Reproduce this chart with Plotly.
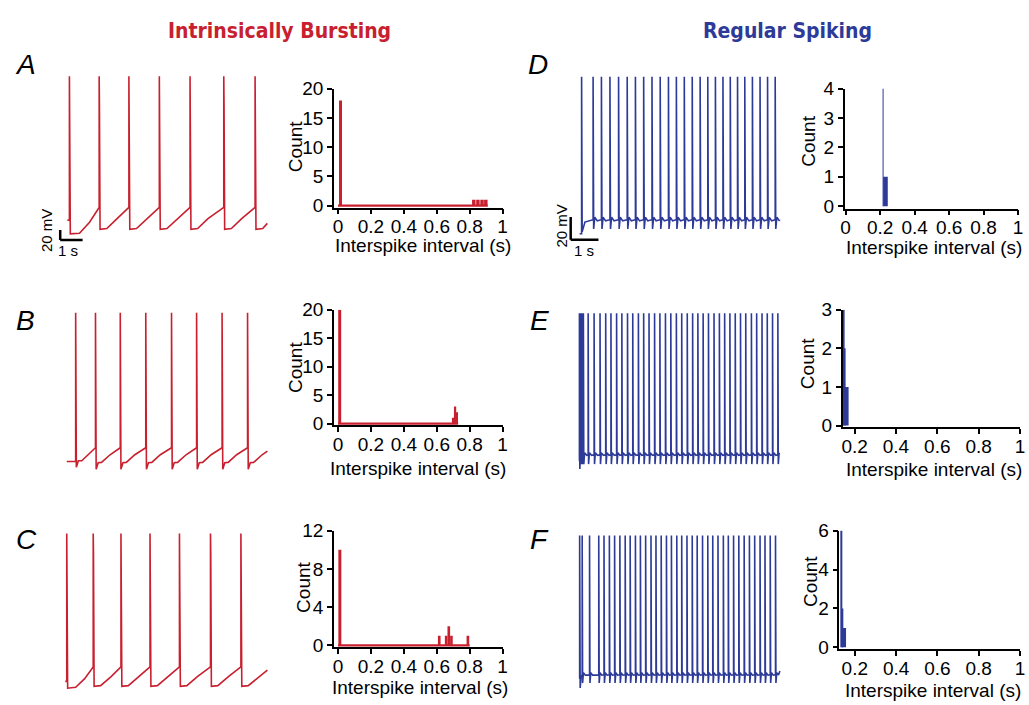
import plotly.graph_objects as go

W, H = 1029, 705
RED = "#c8202e"
BLUE = "#2d3a98"
FONT = "Liberation Sans, Arial, Helvetica, sans-serif"

# ---------------- data: spike times (s) ----------------
A_SPIKES = [0.265, 1.593, 2.920, 4.279, 5.650, 7.155, 8.553]
B_SPIKES = [0.544, 1.429, 2.535, 3.673, 4.823, 5.942, 7.080, 8.217]
C_SPIKES = [0.146, 1.327, 2.566, 3.863, 5.177, 6.562, 7.920]
D_SPIKES = [0.275, 0.689, 0.989, 1.296, 1.607, 1.918, 2.214, 2.511, 2.811, 3.107,
            3.404, 3.689, 3.975, 4.261, 4.546, 4.821, 5.096, 5.368, 5.632, 5.893,
            6.154, 6.429, 6.704, 6.975, 7.250]
E_SPIKES = [0.196, 0.232, 0.268, 0.304, 0.339, 0.511, 0.725, 0.939, 1.143, 1.332,
            1.536, 1.725, 1.929, 2.118, 2.321, 2.511, 2.704, 2.904, 3.096, 3.296,
            3.489, 3.689, 3.882, 4.082, 4.275, 4.464, 4.654, 4.846, 5.046, 5.239,
            5.429, 5.618, 5.811, 6.000, 6.189, 6.393, 6.582, 6.775, 6.964, 7.154,
            7.346]
F_SPIKES = [0.204, 0.296, 0.561, 0.893, 1.082, 1.275, 1.464, 1.654, 1.846, 2.025,
            2.214, 2.393, 2.582, 2.775, 2.954, 3.143, 3.332, 3.511, 3.704, 3.882,
            4.071, 4.261, 4.439, 4.632, 4.821, 5.000, 5.189, 5.382, 5.561, 5.750,
            5.939, 6.132, 6.321, 6.511, 6.704, 6.882, 7.071, 7.261]

# voltage levels (in scale-bar mV): start, end, pre-spike, peak
A_START, A_END, A_PRE, A_PEAK = (0.177, -50.9), (9.10, -57.2), -26, 231
B_START, B_END, B_PRE, B_PEAK = (0.146, -66.1), (9.102, -45.9), -39.3, 225
C_START, C_END, C_PRE, C_PEAK = (0.08, -62.4), (9.102, -40.1), -34, 227
D_START, D_END, D_PRE, D_PEAK = (0.204, -77.0), (7.404, -64.6), -64.6, 61.6
E_START, E_END, E_PRE, E_PEAK = (0.17, -70.0), (7.40, -65.0), -65.0, 59.7
F_START, F_END, F_PRE, F_PEAK = (0.179, -67.3), (7.418, -61.0), -64.4, 58.6

# post-spike waveform (time after spike s, mV)
A_AFTER = [(0.006, 77), (0.012, 177), (0.04, -68.7), (0.34, -67.3), (0.8, -48)]
A_AFTER_FIRST = [(0.006, 77), (0.012, 177), (0.04, -77.6), (0.45, -76.7), (0.9, -55)]
B_AFTER = [(0.006, 77), (0.012, 170), (0.03, -81.5), (0.12, -68.7), (0.27, -68), (0.65, -53)]
B_AFTER_FIRST = [(0.006, 77), (0.012, 170), (0.03, -77.6), (0.12, -64.7), (0.27, -64.7)]
C_AFTER = [(0.006, 77), (0.012, 191), (0.04, -71.9), (0.33, -70.7), (0.8, -53)]
C_AFTER_FIRST = [(0.006, 77), (0.012, 191), (0.04, -75.7), (0.4, -74), (0.8, -57)]
D_AFTER = [(0.02, -72.7), (0.06, -62.4), (0.15, -65.6)]
D_AFTER_FIRST = [(0.02, -75.3), (0.12, -66.7)]
E_AFTER = [(0.015, -73.3), (0.045, -63.3), (0.12, -65.5)]
E_AFTER_FIRST = [(0.015, -77.6)]
F_AFTER = [(0.015, -71.6), (0.045, -62.4), (0.11, -64.6)]
F_AFTER_FIRST = [(0.02, -75.9), (0.05, -66)]

# ---------------- data: ISI histograms ----------------
HA_X = [0.015, 0.825, 0.850, 0.875, 0.898]
HA_Y = [18, 1, 1, 1, 1]
HA_W = [0.018, 0.021, 0.021, 0.021, 0.021]
HA_BASE_END = 0.91
HB_X = [0.010, 0.702, 0.713, 0.724]
HB_Y = [20, 1, 3, 2]
HB_W = [0.018, 0.010, 0.010, 0.010]
HB_BASE_END = 0.73
HC_X = [0.011, 0.615, 0.657, 0.673, 0.689, 0.789]
HC_Y = [10, 1, 1, 2, 1, 1]
HC_W = [0.018, 0.016, 0.016, 0.016, 0.016, 0.016]
HC_BASE_END = 0.80
HD_X = [0.231, 0.2165]
HD_Y = [1, 4]
HD_W = [0.027, 0.004]
HE_X = [0.162, 0.147, 0.150]
HE_Y = [1, 3, 2]
HE_W = [0.018, 0.004, 0.004]
HF_X = [0.1475, 0.136, 0.139]
HF_Y = [1, 6, 2]
HF_W = [0.020, 0.004, 0.004]

X_TICKS = [0, 0.2, 0.4, 0.6, 0.8, 1]
X_TICK_TEXT = ["0", "0.2", "0.4", "0.6", "0.8", "1"]


def build(spikes, after, after_first, start, end, pre, peak):
    ts, vs = [start[0]], [start[1]]
    for i, t in enumerate(spikes):
        nxt = spikes[i + 1] if i + 1 < len(spikes) else end[0]
        ts.append(t); vs.append(start[1] if i == 0 else pre)
        ts.append(t); vs.append(peak)
        for dt, v in (after_first if i == 0 else after):
            if t + dt < nxt:
                ts.append(t + dt); vs.append(v)
    ts.append(end[0]); vs.append(end[1])
    return ts, vs


def fx(px):
    return px / W


def fy(py):
    return 1 - py / H


def x_axis_place(p0, p1, r0, r1):
    lo, hi = max(p0, 0), min(p1, W)
    k = (r1 - r0) / (p1 - p0)
    return [fx(lo), fx(hi)], [r0 + (lo - p0) * k, r0 + (hi - p0) * k]


def y_axis_place(p0, p1, r_top, r_bot):
    lo, hi = max(p0, 0), min(p1, H)
    k = (r_bot - r_top) / (p1 - p0)
    return [fy(hi), fy(lo)], [r_top + (hi - p0) * k, r_top + (lo - p0) * k]


fig = go.Figure()
layout = {}

# ---------- trace panels ----------
# (axis idx, data, colour, x px, y px, x origin px, px per s, ref px, ref mV, px per mV)
trace_panels = [
    (1, build(A_SPIKES, A_AFTER, A_AFTER_FIRST, A_START, A_END, A_PRE, A_PEAK), RED,
     (35, 280), (50, 255), 60, 22.6, 226, -70, 0.525),
    (5, build(B_SPIKES, B_AFTER, B_AFTER_FIRST, B_START, B_END, B_PRE, B_PEAK), RED,
     (35, 280), (295, 485), 60, 22.6, 466, -70, 0.525),
    (9, build(C_SPIKES, C_AFTER, C_AFTER_FIRST, C_START, C_END, C_PRE, C_PEAK), RED,
     (35, 280), (520, 705), 60, 22.6, 694, -70, 0.525),
    (3, build(D_SPIKES, D_AFTER, D_AFTER_FIRST, D_START, D_END, D_PRE, D_PEAK), BLUE,
     (545, 792), (50, 255), 575, 28.0, 216, -65, 1.165),
    (7, build(E_SPIKES, E_AFTER, E_AFTER_FIRST, E_START, E_END, E_PRE, E_PEAK), BLUE,
     (545, 792), (295, 485), 575, 28.0, 457, -65, 1.165),
    (11, build(F_SPIKES, F_AFTER, F_AFTER_FIRST, F_START, F_END, F_PRE, F_PEAK), BLUE,
     (545, 792), (520, 705), 575, 28.0, 684, -65, 1.165),
]

for idx, (ts, vs), col, xd, yd, ox, sx, pref, vref, sy in trace_panels:
    sfx = "" if idx == 1 else str(idx)
    fig.add_trace(go.Scatter(x=ts, y=vs, mode="lines", line=dict(color=col, width=1.6),
                             xaxis="x" + sfx, yaxis="y" + sfx, hoverinfo="skip"))
    dx, rx = x_axis_place(xd[0], xd[1], (xd[0] - ox) / sx, (xd[1] - ox) / sx)
    dy, ry = y_axis_place(yd[0], yd[1], vref + (pref - yd[0]) / sy, vref + (pref - yd[1]) / sy)
    layout["xaxis" + sfx] = dict(domain=dx, range=rx, visible=False, anchor="y" + sfx)
    layout["yaxis" + sfx] = dict(domain=dy, range=ry, visible=False, anchor="x" + sfx)

# ---------- histograms ----------
hist_panels = [
    (2, HA_X, HA_Y, HA_W, HA_BASE_END, RED, (332.85, 503), [-0.025, 1], (81, 203), [-0.333, 20], [0, 5, 10, 15, 20]),
    (6, HB_X, HB_Y, HB_W, HB_BASE_END, RED, (332.85, 503), [-0.025, 1], (308, 427), [-0.34, 20], [0, 5, 10, 15, 20]),
    (10, HC_X, HC_Y, HC_W, HC_BASE_END, RED, (332.85, 503), [-0.025, 1], (535, 655), [-0.2, 12], [0, 4, 8, 12]),
    (4, HD_X, HD_Y, HD_W, None, BLUE, (848, 1023), [-0.006, 1], (80.7, 204), [-0.076, 4], [0, 1, 2, 3, 4]),
    (8, HE_X, HE_Y, HE_W, None, BLUE, (846, 1025), [0.142, 1], (308, 429), [-0.05, 3], [0, 1, 2, 3]),
    (12, HF_X, HF_Y, HF_W, None, BLUE, (842.7, 1025), [0.125, 1], (535, 656.7), [-0.085, 6], [0, 2, 4, 6]),
]

axis_common = dict(showline=True, linecolor="black", linewidth=1.5, ticks="outside",
                   ticklen=5, tickwidth=1.5, tickcolor="black", showgrid=False,
                   zeroline=False, tickfont=dict(family=FONT, size=19, color="black"),
                   fixedrange=True)

for idx, hx, hy, hw, base_end, col, xd, xr, yd, yr, yt in hist_panels:
    sfx = str(idx)
    if base_end is not None:
        fig.add_trace(go.Scatter(x=[0, base_end], y=[0, 0], mode="lines",
                                 line=dict(color=col, width=2.2),
                                 xaxis="x" + sfx, yaxis="y" + sfx, hoverinfo="skip"))
    fig.add_trace(go.Bar(x=hx, y=hy, width=hw, marker=dict(color=col, line=dict(width=0)),
                         xaxis="x" + sfx, yaxis="y" + sfx, hoverinfo="skip"))
    dx, rx = x_axis_place(xd[0], xd[1], xr[0], xr[1])
    dy, ry = y_axis_place(yd[0], yd[1], yr[1], yr[0])
    ticks = [t for t in X_TICKS if rx[0] - 1e-9 <= t <= rx[1] + 1e-9]
    ttext = [X_TICK_TEXT[X_TICKS.index(t)] for t in ticks]
    layout["xaxis" + sfx] = dict(domain=dx, range=rx, anchor="y" + sfx, ticklabelstandoff=-4,
                                 tickmode="array", tickvals=ticks, ticktext=ttext, **axis_common)
    layout["yaxis" + sfx] = dict(domain=dy, range=ry, anchor="x" + sfx,
                                 tickmode="array", tickvals=yt, ticktext=[str(v) for v in yt],
                                 **axis_common)

# ---------- scale bars (20 mV, 1 s) ----------
shapes = []
shapes.append(dict(type="line", xref="x", yref="y", x0=-0.146, x1=-0.146, y0=-70, y1=-90,
                   line=dict(color="black", width=2.5)))
shapes.append(dict(type="line", xref="x", yref="y", x0=-0.146, x1=0.854, y0=-90, y1=-90,
                   line=dict(color="black", width=2.5)))
shapes.append(dict(type="line", xref="x3", yref="y3", x0=-0.118, x1=-0.118, y0=-62.2, y1=-82.2,
                   line=dict(color="black", width=2.5)))
shapes.append(dict(type="line", xref="x3", yref="y3", x0=-0.118, x1=0.882, y0=-82.2, y1=-82.2,
                   line=dict(color="black", width=2.5)))


def ann(text, px, py, size=19, angle=0, color="black", family=FONT):
    return dict(text=text, x=fx(px), y=fy(py), xref="paper", yref="paper",
                showarrow=False, xanchor="center", yanchor="middle", textangle=angle,
                font=dict(family=family, size=size, color=color))


TITLE_FONT = "Liberation Sans Narrow, Arial Narrow, DejaVu Sans Condensed, sans-serif"
annotations = [
    ann("<b>Intrinsically Bursting</b>", 277.5, 22, size=21, color=RED, family=TITLE_FONT),
    ann("<b>Regular Spiking</b>", 790, 22, size=21, color=BLUE, family=TITLE_FONT),
    ann("<i>A</i>", 22, 56, size=28), ann("<i>B</i>", 22, 319, size=28),
    ann("<i>C</i>", 23, 544, size=28), ann("<i>D</i>", 539, 56, size=28),
    ann("<i>E</i>", 540, 319, size=28), ann("<i>F</i>", 540, 544, size=28),
    ann("20 mV", 43.5, 227, size=15, angle=-90), ann("1 s", 65, 247, size=15),
    ann("20 mV", 561.5, 222, size=15, angle=-90), ann("1 s", 585, 247, size=15),
    ann("Count", 293.5, 140, angle=-90), ann("Count", 293.5, 367, angle=-90),
    ann("Count", 301.5, 593, angle=-90), ann("Count", 811.5, 135, angle=-90),
    ann("Count", 810, 363, angle=-90), ann("Count", 813, 587, angle=-90),
    ann("Interspike interval (s)", 423, 242), ann("Interspike interval (s)", 417.5, 471),
    ann("Interspike interval (s)", 420, 696), ann("Interspike interval (s)", 938, 244),
    ann("Interspike interval (s)", 938, 472.5), ann("Interspike interval (s)", 937, 699),
]

fig.update_layout(width=W, height=H, margin=dict(l=0, r=0, t=0, b=0),
                  paper_bgcolor="white", plot_bgcolor="rgba(0,0,0,0)",
                  showlegend=False, barmode="overlay", shapes=shapes,
                  annotations=annotations, **layout)

fig.write_html("out.html", config={"displayModeBar": False})
